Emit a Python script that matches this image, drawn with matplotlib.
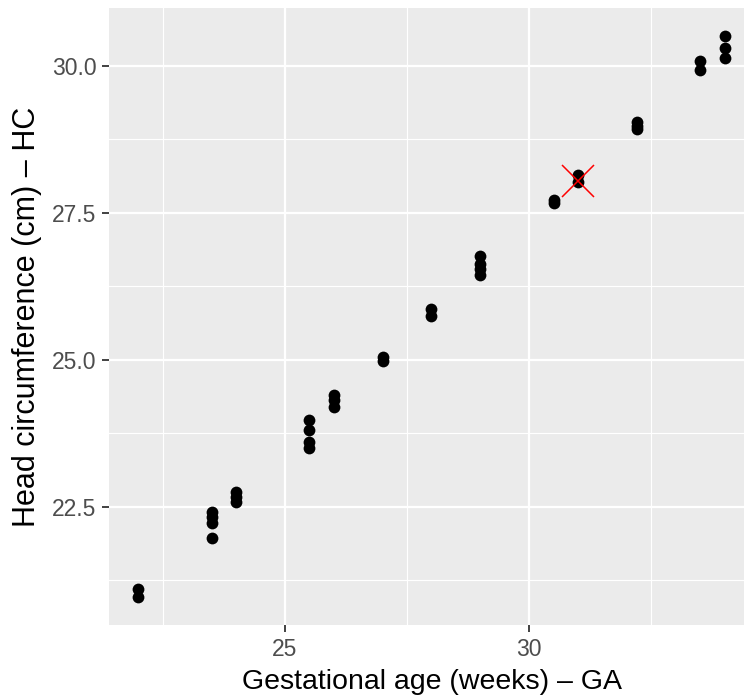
import matplotlib
matplotlib.use("Agg")
import matplotlib.pyplot as plt
from matplotlib.ticker import MultipleLocator

# gestational age (weeks) and head circumference (cm)
ga = [22, 22,
      23.5, 23.5, 23.5, 23.5,
      24, 24, 24,
      25.5, 25.5, 25.5, 25.5,
      26, 26, 26,
      27, 27,
      28, 28,
      29, 29, 29, 29,
      30.5, 30.5,
      31, 31,
      32.2, 32.2, 32.2,
      33.5, 33.5,
      34, 34, 34]
hc = [21.10, 20.96,
      22.40, 22.32, 22.22, 21.96,
      22.75, 22.66, 22.57,
      23.97, 23.80, 23.60, 23.50,
      24.40, 24.31, 24.20,
      25.04, 24.97,
      25.86, 25.74,
      26.76, 26.63, 26.55, 26.45,
      27.72, 27.66,
      28.15, 28.02,
      29.05, 28.98, 28.92,
      30.08, 29.93,
      30.51, 30.31, 30.14]

# flagged observation
flag_ga = [31]
flag_hc = [28.05]

plt.rcParams['font.family'] = ['Liberation Sans', 'DejaVu Sans']

fig = plt.figure(figsize=(7.44, 7.0), dpi=100)
ax = fig.add_axes([109/744, 1 - 625/700, (754 - 109)/744, (625 - 8)/700])
ax.set_facecolor("#EBEBEB")
for s in ax.spines.values():
    s.set_visible(False)

ax.scatter(ga, hc, s=72, color="black", zorder=3, linewidths=0)
ax.plot(flag_ga, flag_hc, marker="x", color="red", markersize=23, markeredgewidth=1.1,
        linestyle="none", zorder=4)

# ggplot style 5% expansion
xmin, xmax = min(ga), max(ga)
ymin, ymax = min(hc), max(hc)
ax.set_xlim(xmin - 0.05 * (xmax - xmin), xmax + 0.05 * (xmax - xmin))
ax.set_ylim(ymin - 0.05 * (ymax - ymin), ymax + 0.05 * (ymax - ymin))

ax.xaxis.set_major_locator(MultipleLocator(5))
ax.xaxis.set_minor_locator(MultipleLocator(2.5))
ax.yaxis.set_minor_locator(MultipleLocator(1.25))
ax.set_yticks([22.5, 25.0, 27.5, 30.0])
ax.set_yticklabels(["22.5", "25.0", "27.5", "30.0"])

ax.grid(which="major", color="white", linewidth=1.6)
ax.grid(which="minor", color="white", linewidth=0.8)
ax.set_axisbelow(True)

ax.tick_params(which="major", length=5, width=1.3, color="#333333",
               labelcolor="#4D4D4D", labelsize=16.5, pad=4)
ax.tick_params(which="minor", length=0)

ax.set_xlabel("Gestational age (weeks) \u2013 GA", fontsize=20.5, labelpad=6)
ax.set_ylabel("Head circumference (cm) \u2013 HC", fontsize=22, labelpad=7)

fig.savefig("out.png", dpi=100)
